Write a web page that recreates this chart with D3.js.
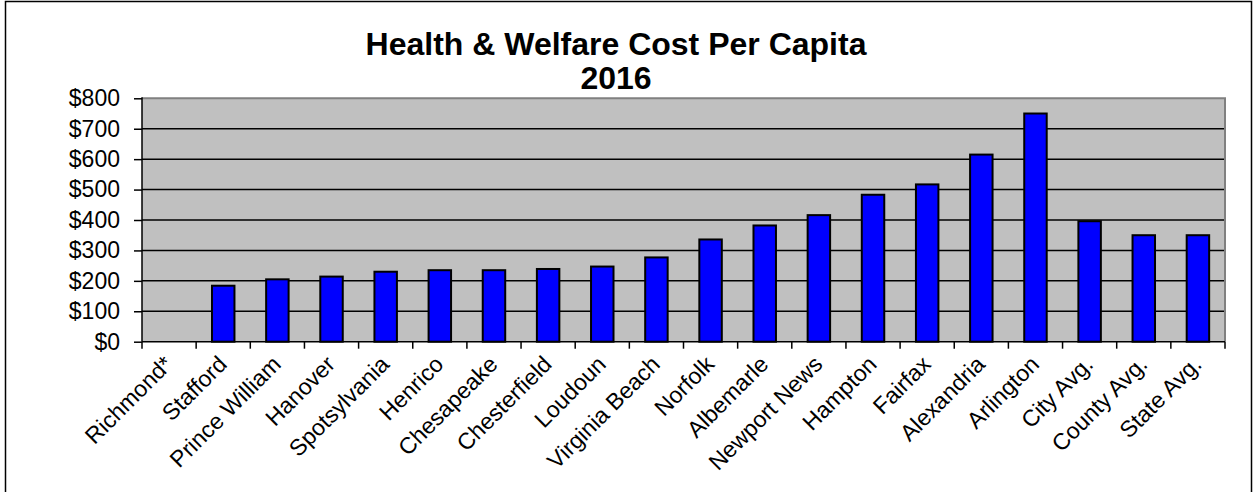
<!DOCTYPE html>
<html>
<head>
<meta charset="utf-8">
<script src="https://cdn.jsdelivr.net/npm/d3@7"></script>
<style>
  html, body { margin: 0; padding: 0; background: #fff; }
  svg { display: block; }
</style>
</head>
<body>
<svg id="chart" width="1254" height="492"></svg>
<script>
const categories = ["Richmond*", "Stafford", "Prince William", "Hanover", "Spotsylvania", "Henrico",
  "Chesapeake", "Chesterfield", "Loudoun", "Virginia Beach", "Norfolk", "Albemarle",
  "Newport News", "Hampton", "Fairfax", "Alexandria", "Arlington", "City Avg.", "County Avg.", "State Avg."];
const values = [0, 184, 205, 214, 230, 235, 235, 239, 247, 277, 336, 382, 416, 483, 517, 615, 750, 396, 350, 350];
const yTicks = [0, 100, 200, 300, 400, 500, 600, 700, 800];
const titleLines = ["Health & Welfare Cost Per Capita", "2016"];

const svg = d3.select("#chart");
const W = 1254, H = 492;
const plot = { left: 142, right: 1225, top: 98.3, bottom: 341.7 };

svg.append("path")
  .attr("d", `M5.5,${H} L5.5,1.5 L1251.5,1.5 L1251.5,${H}`)
  .attr("fill", "none").attr("stroke", "#000").attr("stroke-width", 1.5);

const x = d3.scaleBand().domain(categories).range([plot.left, plot.right]).padding(0);
const y = d3.scaleLinear().domain([0, 800]).range([plot.bottom, plot.top]);

svg.append("rect")
  .attr("x", plot.left).attr("y", plot.top)
  .attr("width", plot.right - plot.left).attr("height", plot.bottom - plot.top)
  .attr("fill", "#c0c0c0");

svg.append("g").selectAll("line").data(yTicks.filter(d => d > 0 && d < 800)).join("line")
  .attr("x1", plot.left).attr("x2", plot.right)
  .attr("y1", d => y(d)).attr("y2", d => y(d))
  .attr("stroke", "#000").attr("stroke-width", 1.5);

svg.append("path")
  .attr("d", `M${plot.left},${plot.top} L${plot.right},${plot.top} L${plot.right},${plot.bottom}`)
  .attr("fill", "none").attr("stroke", "#808080").attr("stroke-width", 2);

const barW = x.bandwidth() * 0.415;
svg.append("g").selectAll("rect").data(categories.map((c, i) => ({ c, v: values[i] })).filter(d => d.v > 0)).join("rect")
  .attr("x", d => x(d.c) + x.bandwidth() / 2 - barW / 2)
  .attr("y", d => y(d.v))
  .attr("width", barW)
  .attr("height", d => y(0) - y(d.v))
  .attr("fill", "#0000ff")
  .attr("stroke", "#000").attr("stroke-width", 2);

const yAxis = d3.axisLeft(y).tickValues(yTicks).tickFormat(d => "$" + d).tickSize(8).tickPadding(14);
const gy = svg.append("g").attr("transform", `translate(${plot.left},0)`).call(yAxis);
gy.select(".domain").attr("stroke", "#000").attr("stroke-width", 1.5).attr("d", `M0,${plot.top - 1}V${plot.bottom}`);
gy.selectAll(".tick line").attr("stroke", "#000").attr("stroke-width", 1.5);
gy.selectAll(".tick text")
  .attr("font-family", "'Liberation Sans', Arial, sans-serif")
  .attr("font-size", 23).attr("fill", "#000");

const gx = svg.append("g");
gx.append("line").attr("x1", plot.left).attr("x2", plot.right)
  .attr("y1", plot.bottom).attr("y2", plot.bottom)
  .attr("stroke", "#000").attr("stroke-width", 1.5);
const boundaries = categories.map(c => x(c)).concat([plot.right]);
gx.selectAll("line.tk").data(boundaries).join("line").attr("class", "tk")
  .attr("x1", d => d).attr("x2", d => d)
  .attr("y1", plot.bottom).attr("y2", plot.bottom + 7)
  .attr("stroke", "#000").attr("stroke-width", 1.5);

gx.selectAll("text").data(categories).join("text")
  .attr("transform", d => `translate(${x(d) + x.bandwidth() / 2 + 5},${plot.bottom + 24}) rotate(-45)`)
  .attr("text-anchor", "end")
  .attr("font-family", "'Liberation Sans', Arial, sans-serif")
  .attr("font-size", 23).attr("fill", "#000")
  .text(d => d);

svg.append("g").selectAll("text").data(titleLines).join("text")
  .attr("x", 616).attr("y", (d, i) => 55 + i * 34)
  .attr("text-anchor", "middle")
  .attr("font-family", "'Liberation Sans', Arial, sans-serif")
  .attr("font-weight", "bold").attr("font-size", 32).attr("fill", "#000")
  .text(d => d);
</script>
</body>
</html>
